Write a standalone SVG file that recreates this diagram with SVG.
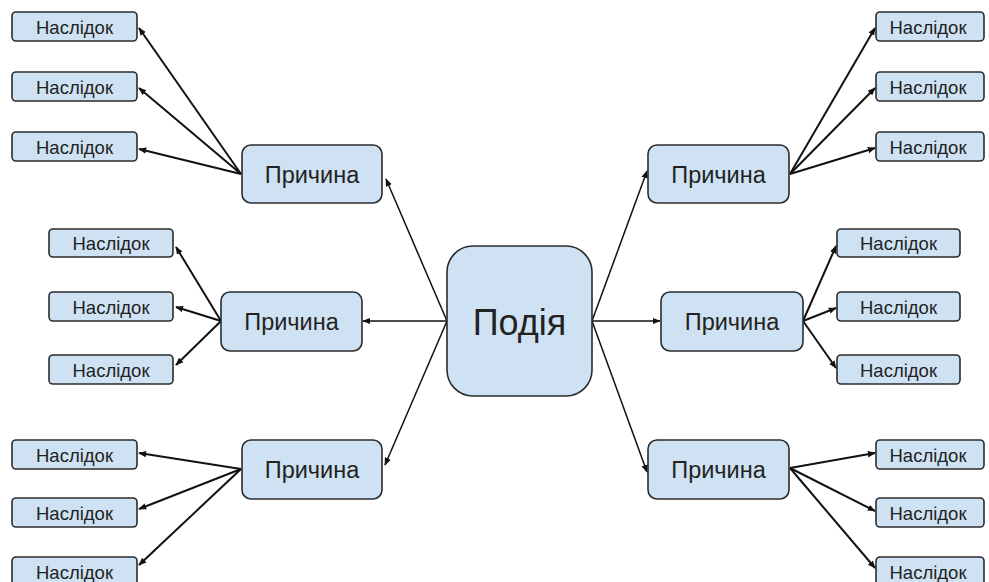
<svg xmlns="http://www.w3.org/2000/svg" width="989" height="582" viewBox="0 0 989 582">
<defs>
<style>
.box{fill:#cfe2f3;stroke:#2b2b2b;stroke-width:1.6}
.t{font-family:"Liberation Sans",Arial,sans-serif;fill:#222;text-anchor:middle;dominant-baseline:central}
.s{font-size:18.5px}
.m{font-size:23.5px}
.b{font-size:36px}
.c{stroke:#111;stroke-width:2;fill:none;marker-end:url(#ah)}
.c1{stroke:#111;stroke-width:1.5;fill:none;marker-end:url(#ah)}
</style>
<marker id="ah" viewBox="0 0 10 10" refX="9" refY="5" markerWidth="8" markerHeight="8" markerUnits="userSpaceOnUse" orient="auto">
<path d="M0,1 L10,5 L0,9 z" fill="#111"/>
</marker>
</defs>
<rect width="989" height="582" fill="#fff"/>
<g id="connectors">
<line class="c1" x1="447" y1="321" x2="386" y2="179"/>
<line class="c1" x1="447" y1="321" x2="363" y2="321"/>
<line class="c1" x1="447" y1="321" x2="385" y2="465"/>
<line class="c1" x1="592" y1="321" x2="647" y2="171"/>
<line class="c1" x1="592" y1="321" x2="660" y2="321"/>
<line class="c1" x1="592" y1="321" x2="647" y2="472"/>
<line class="c" x1="241" y1="174" x2="139" y2="28"/>
<line class="c" x1="241" y1="174" x2="139" y2="88"/>
<line class="c" x1="241" y1="174" x2="139" y2="149"/>
<line class="c" x1="790" y1="174" x2="875" y2="28"/>
<line class="c" x1="790" y1="174" x2="875" y2="88"/>
<line class="c" x1="790" y1="174" x2="875" y2="148"/>
<line class="c" x1="221" y1="321" x2="176" y2="247"/>
<line class="c" x1="221" y1="321" x2="176" y2="307"/>
<line class="c" x1="221" y1="321" x2="176" y2="365"/>
<line class="c" x1="803" y1="321" x2="836" y2="246"/>
<line class="c" x1="803" y1="321" x2="836" y2="308"/>
<line class="c" x1="803" y1="321" x2="836" y2="368"/>
<line class="c" x1="241" y1="469" x2="139" y2="453"/>
<line class="c" x1="241" y1="469" x2="139" y2="509"/>
<line class="c" x1="241" y1="469" x2="139" y2="565"/>
<line class="c" x1="790" y1="468" x2="875" y2="453"/>
<line class="c" x1="790" y1="468" x2="875" y2="511"/>
<line class="c" x1="790" y1="468" x2="875" y2="568"/>
</g>
<g id="event"><rect class="box" x="447" y="246" width="145" height="150" rx="26"/><text class="t b" x="519.5" y="322">Подія</text></g>
<g id="cause-tl"><rect class="box" x="242" y="145" width="140" height="58" rx="9"/><text class="t m" x="312" y="175">Причина</text></g>
<g id="cause-ml"><rect class="box" x="221" y="292" width="141" height="59" rx="9"/><text class="t m" x="291.5" y="322">Причина</text></g>
<g id="cause-bl"><rect class="box" x="242" y="440" width="140" height="59" rx="9"/><text class="t m" x="312" y="470">Причина</text></g>
<g id="cause-tr"><rect class="box" x="648" y="145" width="141" height="58" rx="9"/><text class="t m" x="718.5" y="175">Причина</text></g>
<g id="cause-mr"><rect class="box" x="661" y="292" width="142" height="59" rx="9"/><text class="t m" x="732" y="322">Причина</text></g>
<g id="cause-br"><rect class="box" x="648" y="440" width="141" height="59" rx="9"/><text class="t m" x="718.5" y="470">Причина</text></g>
<g id="eff-tl1"><rect class="box" x="12" y="12" width="125" height="29" rx="4"/><text class="t s" x="74.5" y="27">Наслідок</text></g>
<g id="eff-tl2"><rect class="box" x="12" y="72" width="125" height="29" rx="4"/><text class="t s" x="74.5" y="87">Наслідок</text></g>
<g id="eff-tl3"><rect class="box" x="12" y="132" width="125" height="29" rx="4"/><text class="t s" x="74.5" y="147">Наслідок</text></g>
<g id="eff-ml1"><rect class="box" x="49" y="229" width="124" height="28" rx="4"/><text class="t s" x="111" y="243.5">Наслідок</text></g>
<g id="eff-ml2"><rect class="box" x="49" y="292" width="124" height="29" rx="4"/><text class="t s" x="111" y="307">Наслідок</text></g>
<g id="eff-ml3"><rect class="box" x="49" y="355" width="124" height="29" rx="4"/><text class="t s" x="111" y="370">Наслідок</text></g>
<g id="eff-bl1"><rect class="box" x="12" y="440" width="125" height="29" rx="4"/><text class="t s" x="74.5" y="455">Наслідок</text></g>
<g id="eff-bl2"><rect class="box" x="12" y="498" width="125" height="29" rx="4"/><text class="t s" x="74.5" y="513">Наслідок</text></g>
<g id="eff-bl3"><rect class="box" x="12" y="557" width="125" height="29" rx="4"/><text class="t s" x="74.5" y="572">Наслідок</text></g>
<g id="eff-tr1"><rect class="box" x="876" y="12" width="108" height="29" rx="4"/><text class="t s" x="928" y="27">Наслідок</text></g>
<g id="eff-tr2"><rect class="box" x="876" y="72" width="108" height="29" rx="4"/><text class="t s" x="928" y="87">Наслідок</text></g>
<g id="eff-tr3"><rect class="box" x="876" y="132" width="108" height="29" rx="4"/><text class="t s" x="928" y="147">Наслідок</text></g>
<g id="eff-mr1"><rect class="box" x="837" y="229" width="123" height="28" rx="4"/><text class="t s" x="898.5" y="243.5">Наслідок</text></g>
<g id="eff-mr2"><rect class="box" x="837" y="292" width="123" height="29" rx="4"/><text class="t s" x="898.5" y="307">Наслідок</text></g>
<g id="eff-mr3"><rect class="box" x="837" y="355" width="123" height="29" rx="4"/><text class="t s" x="898.5" y="370">Наслідок</text></g>
<g id="eff-br1"><rect class="box" x="876" y="440" width="108" height="29" rx="4"/><text class="t s" x="928" y="455">Наслідок</text></g>
<g id="eff-br2"><rect class="box" x="876" y="498" width="108" height="29" rx="4"/><text class="t s" x="928" y="513">Наслідок</text></g>
<g id="eff-br3"><rect class="box" x="876" y="557" width="108" height="29" rx="4"/><text class="t s" x="928" y="572">Наслідок</text></g>
</svg>
